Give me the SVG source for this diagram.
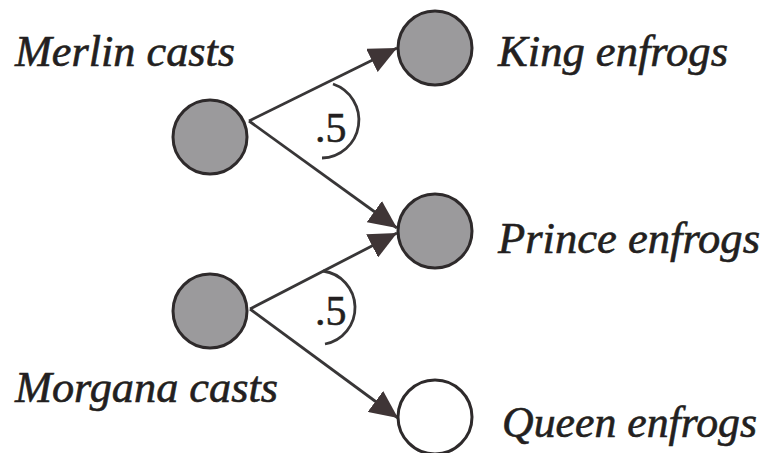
<svg xmlns="http://www.w3.org/2000/svg" width="766" height="453" viewBox="0 0 766 453">
<style>
.lbl{font-family:"Liberation Serif","Times New Roman",serif;font-style:italic;font-size:44px;fill:#231f20;stroke:#231f20;stroke-width:0.6}
.num{font-family:"Liberation Serif","Times New Roman",serif;font-size:42px;fill:#231f20;stroke:#231f20;stroke-width:0.5}
.node{fill:#9b9a9c;stroke:#2e2a2b;stroke-width:3}
.node.off{fill:#ffffff}
.edge{stroke:#383637;stroke-width:2.8;fill:none}
.arc{stroke:#383637;stroke-width:2.8;fill:none}
</style>
<defs>
<marker id="ah" markerUnits="userSpaceOnUse" viewBox="0 0 28 26" refX="28" refY="13" markerWidth="28" markerHeight="26" orient="auto">
<path d="M0,0 L28,13 L0,26 z" fill="#3f3536"/>
</marker>
</defs>
<g id="connectors">
<line class="edge" x1="249" y1="121" x2="397" y2="48" marker-end="url(#ah)"/>
<line class="edge" x1="249" y1="121" x2="397" y2="228" marker-end="url(#ah)"/>
<line class="edge" x1="250" y1="309" x2="397" y2="233" marker-end="url(#ah)"/>
<line class="edge" x1="250" y1="309" x2="398" y2="418" marker-end="url(#ah)"/>
<path class="arc" d="M333,84 A38,38 0 0 1 322,158"/>
<path class="arc" d="M323,271 A37,37 0 0 1 325,344"/>
<text class="num" x="315" y="142">.5</text>
<text class="num" x="315" y="325">.5</text>
</g>
<g id="merlin">
<circle class="node" cx="210" cy="137" r="37"/>
<text class="lbl" x="15" y="66" textLength="220" lengthAdjust="spacingAndGlyphs">Merlin casts</text>
</g>
<g id="morgana">
<circle class="node" cx="210" cy="311" r="37"/>
<text class="lbl" x="15" y="402" textLength="263" lengthAdjust="spacingAndGlyphs">Morgana casts</text>
</g>
<g id="king">
<circle class="node" cx="435" cy="48" r="37"/>
<text class="lbl" x="498" y="66" textLength="230" lengthAdjust="spacingAndGlyphs">King enfrogs</text>
</g>
<g id="prince">
<circle class="node" cx="435" cy="231" r="37"/>
<text class="lbl" x="498" y="253" textLength="262" lengthAdjust="spacingAndGlyphs">Prince enfrogs</text>
</g>
<g id="queen">
<circle class="node off" cx="435" cy="417" r="37"/>
<text class="lbl" x="502" y="437" textLength="255" lengthAdjust="spacingAndGlyphs">Queen enfrogs</text>
</g>
</svg>
